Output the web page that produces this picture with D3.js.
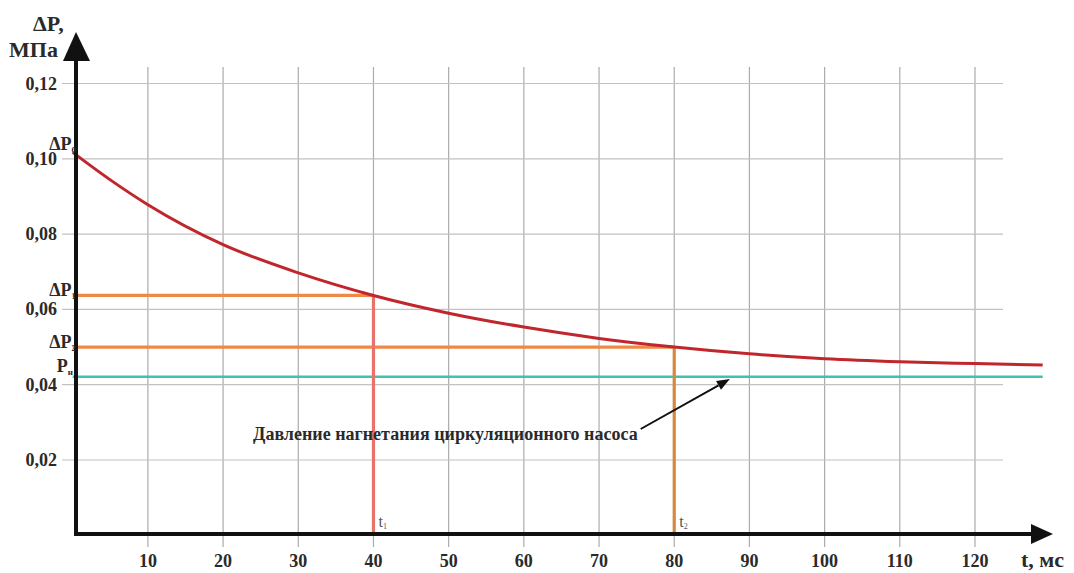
<!DOCTYPE html>
<html>
<head>
<meta charset="utf-8">
<script src="https://cdn.jsdelivr.net/npm/d3@7"></script>
<style>
  html, body { margin: 0; padding: 0; background: #fff; }
  svg { display: block; }
</style>
</head>
<body>
<svg id="chart" width="1074" height="573"></svg>
<script>
// Pressure drop ΔP (MPa) versus time t (ms)
const timeMs   = [0, 5, 10, 20, 30, 40, 50, 60, 70, 80, 90, 100, 110, 120, 129];
const pressure = [0.1017, 0.0944, 0.0878, 0.0772, 0.0697, 0.0637, 0.0590, 0.0553, 0.0523, 0.0500, 0.0482, 0.0469, 0.0461, 0.0456, 0.0452];

// Marked points
const dP0 = 0.1017;
const t1 = 40, dP1 = 0.0637;
const t2 = 80, dP2 = 0.0500;
const pPump = 0.0421;      // circulation pump discharge pressure
const pumpLineEnd = 129;

// Axis ticks
const xTicks = [10, 20, 30, 40, 50, 60, 70, 80, 90, 100, 110, 120];
const yTicks = [0.02, 0.04, 0.06, 0.08, 0.10, 0.12];
const yTickLabels = ["0,02", "0,04", "0,06", "0,08", "0,10", "0,12"];

const annotationText = "Давление нагнетания циркуляционного насоса";
const arrowTarget = { t: 87.4, p: 0.0415 };

const serif = "'Liberation Serif', Tinos, 'Times New Roman', 'DejaVu Serif', serif";

const svg = d3.select("#chart")
  .attr("font-family", serif)
  .attr("font-weight", "bold")
  .attr("fill", "#2a2a2a");

const x = d3.scaleLinear().domain([0, 120]).range([72.7, 975]);
const y = d3.scaleLinear().domain([0, 0.12]).range([535.3, 83.5]);

const axisX = 76;          // position of the vertical axis line
const axisY = 534;         // position of the horizontal axis line
const gridTop = 67, gridBottom = 547;
const gridLeft = 62, gridRight = 1003;

// Grid
svg.append("g").selectAll("line").data(xTicks).join("line")
  .attr("x1", d => x(d)).attr("x2", d => x(d))
  .attr("y1", gridTop).attr("y2", gridBottom)
  .attr("stroke", "#ababab").attr("stroke-width", 1.2);

svg.append("g").selectAll("line").data(yTicks).join("line")
  .attr("x1", gridLeft).attr("x2", gridRight)
  .attr("y1", d => y(d)).attr("y2", d => y(d))
  .attr("stroke", "#c2c2c2").attr("stroke-width", 1.2);

// Tick labels
svg.append("g").selectAll("text").data(xTicks).join("text")
  .attr("x", d => x(d)).attr("y", 567)
  .attr("text-anchor", "middle")
  .attr("font-size", 18)
  .text(d => d);

svg.append("g").selectAll("text").data(yTicks).join("text")
  .attr("x", 57).attr("y", d => y(d) + 6)
  .attr("text-anchor", "end")
  .attr("font-size", 18)
  .text((d, i) => yTickLabels[i]);

// Reference lines
svg.append("line")
  .attr("x1", x(0)).attr("x2", x(pumpLineEnd))
  .attr("y1", y(pPump)).attr("y2", y(pPump))
  .attr("stroke", "#3fc2b2").attr("stroke-width", 2.6);

svg.append("line")
  .attr("x1", x(0)).attr("x2", x(t1))
  .attr("y1", y(dP1)).attr("y2", y(dP1))
  .attr("stroke", "#ee8a45").attr("stroke-width", 3.2);

svg.append("line")
  .attr("x1", x(0)).attr("x2", x(t2))
  .attr("y1", y(dP2)).attr("y2", y(dP2))
  .attr("stroke", "#ee8a45").attr("stroke-width", 3.2);

svg.append("line")
  .attr("x1", x(t1)).attr("x2", x(t1))
  .attr("y1", y(dP1)).attr("y2", axisY)
  .attr("stroke", "#e8736a").attr("stroke-width", 3.2);

svg.append("line")
  .attr("x1", x(t2)).attr("x2", x(t2))
  .attr("y1", y(dP2)).attr("y2", axisY)
  .attr("stroke", "#d8883e").attr("stroke-width", 3.2);

// Pressure curve
const line = d3.line()
  .x((d, i) => x(timeMs[i]))
  .y(d => y(d))
  .curve(d3.curveMonotoneX);

svg.append("path")
  .datum(pressure)
  .attr("d", line)
  .attr("fill", "none")
  .attr("stroke", "#c0262c")
  .attr("stroke-width", 3);

// Axes with arrowheads
svg.append("line")
  .attr("x1", axisX).attr("x2", axisX)
  .attr("y1", 58).attr("y2", axisY + 2)
  .attr("stroke", "#111").attr("stroke-width", 4);
svg.append("path")
  .attr("d", `M${axisX},32 L${axisX - 13},61 L${axisX + 14},61 Z`)
  .attr("fill", "#111");

svg.append("line")
  .attr("x1", axisX - 2).attr("x2", 1034)
  .attr("y1", axisY).attr("y2", axisY)
  .attr("stroke", "#111").attr("stroke-width", 4);
svg.append("path")
  .attr("d", `M1053,${axisY} L1031,${axisY - 10} L1031,${axisY + 10} Z`)
  .attr("fill", "#111");

// Axis titles
svg.append("text").attr("x", 33).attr("y", 31).attr("font-size", 22).text("ΔP,");
svg.append("text").attr("x", 9).attr("y", 57).attr("font-size", 22).text("МПа");
svg.append("text").attr("x", 1021).attr("y", 567).attr("font-size", 22).text("t, мс");

// Left-side value markers with subscripts
function subLabel(xEnd, yBase, main, sub) {
  const g = svg.append("text").attr("x", xEnd).attr("y", yBase)
    .attr("text-anchor", "end").attr("font-size", 18);
  g.append("tspan").text(main);
  g.append("tspan").attr("font-size", 9).attr("dy", 3).text(sub);
}
subLabel(76, y(dP0) - 2, "ΔP", "0");
subLabel(76, y(dP1) + 1, "ΔP", "1");
subLabel(76, y(dP2) + 1, "ΔP", "2");
subLabel(73, y(pPump) - 5, "P", "н");

// Time markers
function timeLabel(t, sub) {
  const g = svg.append("text").attr("x", x(t) + 5).attr("y", 527)
    .attr("font-size", 16).attr("font-weight", "normal")
    .attr("fill", "#555");
  g.append("tspan").text("t");
  g.append("tspan").attr("font-size", 8).attr("dy", 2).text(sub);
}
timeLabel(t1, "1");
timeLabel(t2, "2");

// Pump pressure annotation
const note = svg.append("text")
  .attr("x", 253).attr("y", 440)
  .attr("font-size", 18)
  .text(annotationText);
const noteEnd = 253 + note.node().getComputedTextLength();

const ax0 = noteEnd + 3, ay0 = 429;
const ax1 = x(arrowTarget.t), ay1 = y(arrowTarget.p);
const ang = Math.atan2(ay1 - ay0, ax1 - ax0);
const headLen = 13, headW = 5;
const bx = ax1 - headLen * Math.cos(ang), by = ay1 - headLen * Math.sin(ang);
svg.append("line")
  .attr("x1", ax0).attr("y1", ay0).attr("x2", bx).attr("y2", by)
  .attr("stroke", "#111").attr("stroke-width", 2);
svg.append("path")
  .attr("d", `M${ax1},${ay1} L${bx + headW * Math.sin(ang)},${by - headW * Math.cos(ang)} L${bx - headW * Math.sin(ang)},${by + headW * Math.cos(ang)} Z`)
  .attr("fill", "#111");
</script>
</body>
</html>
